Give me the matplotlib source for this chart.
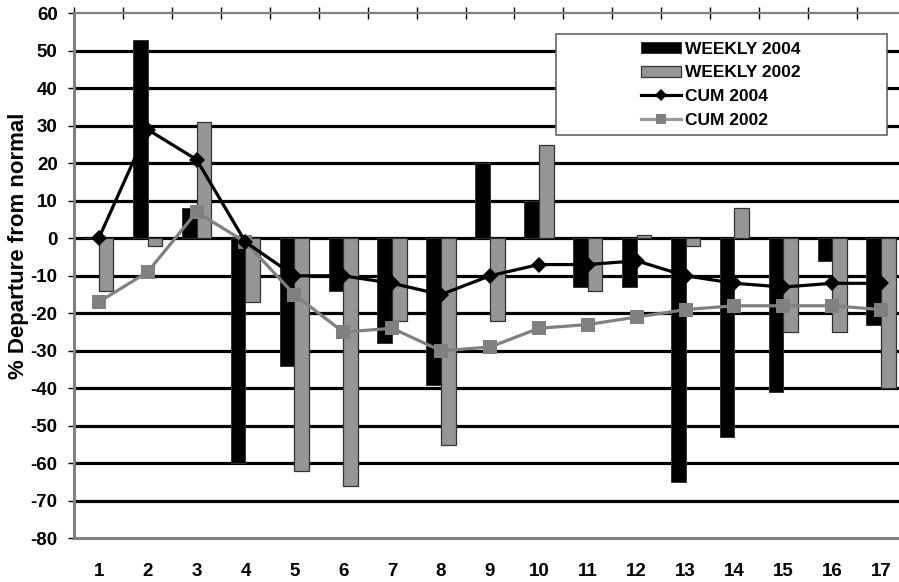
import numpy as np
import matplotlib
matplotlib.use("Agg")
import matplotlib.pyplot as plt
from matplotlib.patches import Rectangle, Patch
from matplotlib.lines import Line2D

plt.rcParams["font.family"] = ["Liberation Sans", "DejaVu Sans"]
plt.rcParams["font.weight"] = "bold"

# ------------------------------------------------------------------ #
# Data
# ------------------------------------------------------------------ #
weeks = list(range(1, 18))
weekly_2004 = [0, 53, 8, -60, -34, -14, -28, -39, 20, 10, -13, -13, -65, -53, -41, -6, -23]
weekly_2002 = [-14, -2, 31, -17, -62, -66, -22, -55, -22, 25, -14, 1, -2, 8, -25, -25, -40]
cum_2004 = [0, 29, 21, -1, -10, -10, -12, -15, -10, -7, -7, -6, -10, -12, -13, -12, -12]
cum_2002 = [-17, -9, 7, -1, -15, -25, -24, -30, -29, -24, -23, -21, -19, -18, -18, -18, -19]
y_ticks = list(range(-80, 61, 10))

BLACK = "#000000"
GRAY_BAR = "#969696"
GRAY_LINE = "#808080"
EDGE = "#333333"

W, H = 899, 582
fig = plt.figure(figsize=(W / 100, H / 100), dpi=100)
ax = fig.add_axes([74.3 / W, 1 - 538.3 / H, 831.3 / W, 525.0 / H])

x = np.array(weeks)
bw = 0.3

# gridlines
for yv in y_ticks[1:-1]:
    ax.axhline(yv, color="black", linewidth=2.3, zorder=1)

ax.bar(x - bw / 2, weekly_2004, bw, color=BLACK, edgecolor=EDGE, linewidth=0.7, zorder=3)
ax.bar(x + bw / 2, weekly_2002, bw, color=GRAY_BAR, edgecolor=EDGE, linewidth=0.9, zorder=3)
ax.plot(x, cum_2002, color=GRAY_LINE, linewidth=2.3, marker="s", markersize=10.5,
        markeredgewidth=0, zorder=4)
ax.plot(x, cum_2004, color=BLACK, linewidth=2.3, marker="D", markersize=8,
        markeredgewidth=0, zorder=5)

ax.set_xlim(0.5, 17.5)
ax.set_ylim(-80, 60)

# category boundaries as ticks on the top axis, labels at the bottom
ax.set_xticks(np.arange(0.5, 18, 1.0))
ax.set_xticks(x, minor=True)
ax.set_xticklabels([str(w) for w in weeks], minor=True, fontsize=13.5, fontweight="bold")
ax.tick_params(axis="x", which="major", top=True, bottom=False, labelbottom=False,
               direction="inout", length=9, width=1, color="black")
ax.tick_params(axis="x", which="minor", top=False, bottom=True, length=0, pad=18)

ax.set_yticks(y_ticks)
ax.set_yticklabels([str(v) for v in y_ticks], fontsize=13.5, fontweight="bold")
ax.tick_params(axis="y", direction="out", length=4.5, width=1, color="black", pad=7.5)

for side in ["left", "bottom"]:
    ax.spines[side].set_color("#808080")
    ax.spines[side].set_linewidth(2.2)
ax.spines["top"].set_color("#808080")
ax.spines["top"].set_linewidth(1.6)
ax.spines["right"].set_visible(False)

fig.text(19 / W, 1 - 246 / H, "% Departure from normal", rotation=90,
         ha="center", va="center", fontsize=16, fontweight="bold")

# legend box (wide, like the original)
box = Rectangle((555.7 / W, 1 - 135 / H), 331 / W, 100.7 / H, transform=fig.transFigure,
                facecolor="white", edgecolor="#666666", linewidth=1.2, zorder=6)
fig.add_artist(box)
handles = [
    Patch(facecolor=BLACK, edgecolor=EDGE, linewidth=0.7),
    Patch(facecolor=GRAY_BAR, edgecolor=EDGE, linewidth=0.9),
    Line2D([], [], color=BLACK, linewidth=2.3, marker="D", markersize=6, markeredgewidth=0),
    Line2D([], [], color="#999999", linewidth=2.3, marker="s", markersize=7, markeredgewidth=0,
           markerfacecolor=GRAY_LINE),
]
labels = ["WEEKLY 2004", "WEEKLY 2002", "CUM 2004", "CUM 2002"]
leg = fig.legend(handles, labels, loc="upper left", bbox_to_anchor=(640.7 / W, 1 - 41.5 / H),
                 frameon=False, fontsize=12.5, handlelength=2.35, handleheight=0.6,
                 handletextpad=0.2, labelspacing=0.5, borderpad=0, borderaxespad=0)
leg.set_zorder(7)
for t in leg.get_texts():
    t.set_fontweight("bold")

fig.savefig("out.png", dpi=100)
